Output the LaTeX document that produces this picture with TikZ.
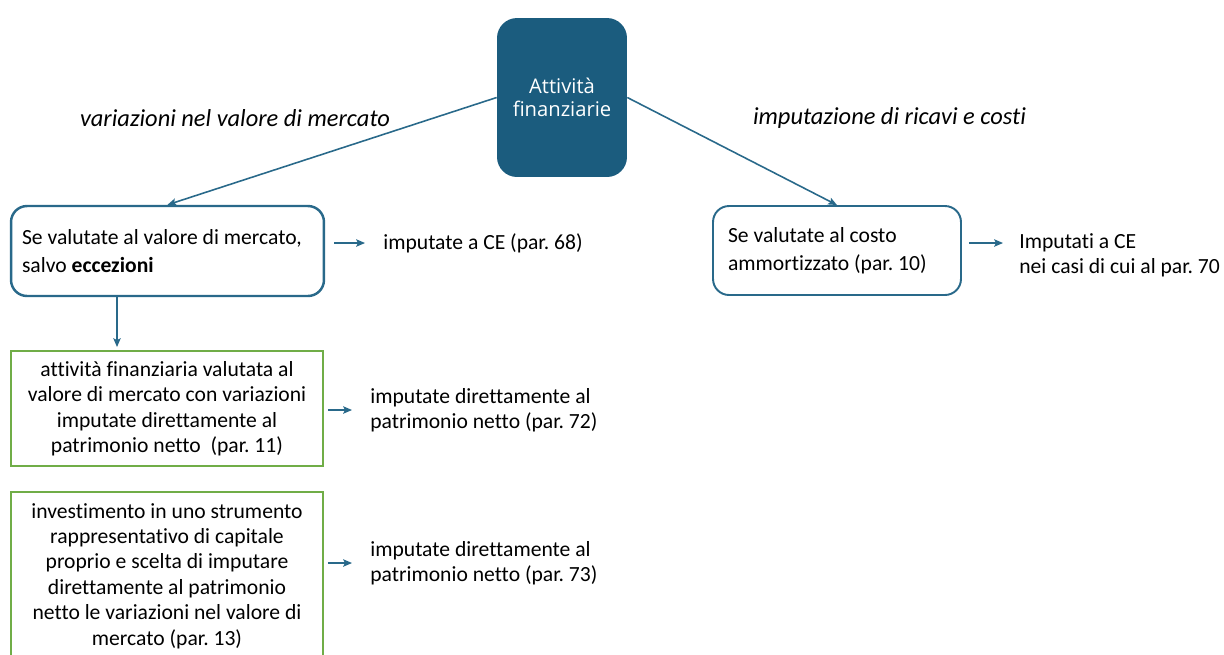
\documentclass[tikz,border=0pt]{standalone}
\usepackage{fontspec}
\setmainfont{Carlito}[Ligatures=NoCommon]
\newfontfamily\titrefont{Open Sans}
\usetikzlibrary{arrows.meta}
\frenchspacing

\definecolor{bleufonce}{HTML}{1B5C7E}
\definecolor{bleutrait}{HTML}{29698A}
\definecolor{vertcadre}{HTML}{70AD47}

\tikzset{
  fleche/.style={draw=bleutrait, line width=0.9pt, -{Stealth[length=5pt,width=4.2pt,inset=1pt]}},
  lien/.style={draw=bleutrait, line width=0.9pt, -{Stealth[length=5pt,width=4.2pt,inset=1pt]}},
  racine/.style={fill=bleufonce, draw=none, rounded corners=0.4cm, text=white,
    minimum width=2.6cm, minimum height=3.18cm, align=center,
    font=\titrefont\fontsize{11.5}{13}\selectfont},
  cadrebleu/.style={draw=bleutrait, line width=1.1pt, rounded corners=0.32cm,
    align=flush left, inner ysep=0pt, font=\fontsize{12.3}{15.9}\selectfont},
  cadrevert/.style={draw=vertcadre, line width=1.1pt, align=flush center,
    inner xsep=0.1cm, inner ysep=0pt, text width=6.04cm,
    font=\fontsize{12.3}{14.5}\selectfont},
  etiquette/.style={anchor=west, align=flush left, inner sep=0pt,
    font=\fontsize{12.3}{14.3}\selectfont},
  titre/.style={inner sep=0pt, font=\itshape\fontsize{13.9}{16}\selectfont},
}

\begin{document}
\begin{tikzpicture}[x=0.02cm, y=-0.02cm]
    \useasboundingbox (0,0) rectangle (1224,654);
    \clip (0,0) rectangle (1224,654);

    % noeud de depart
    \draw (562,97.5) node[racine] (attivita) {Attività\\finanziarie};

    \draw (235,118) node[titre] (titremercato) {variazioni nel valore di mercato};
    \draw (889.5,118) node[titre] (titrecosti) {imputazione di ricavi e costi};

    % cadres bleus
    \draw (167.5,251) node[cadrebleu, line width=1.4pt, inner xsep=0.22cm, text width=5.82cm,
        minimum height=1.8cm] (sevm) {Se valutate al valore di mercato,\\salvo \textbf{eccezioni}};
    \draw (837,250.5) node[cadrebleu, inner xsep=0.3cm, text width=4.36cm,
        minimum height=1.78cm] (costo) {Se valutate al costo\\ammortizzato (par. 10)};

    % cadres verts
    \draw (167,408.5) node[cadrevert, minimum height=2.3cm] (attfin)
        {attività finanziaria valutata al\\valore di mercato con variazioni\\imputate direttamente al\\patrimonio netto\ \ (par. 11)};
    \draw (167,576) node[cadrevert, minimum height=3.36cm] (invest)
        {investimento in uno strumento\\rappresentativo di capitale\\proprio e scelta di imputare\\direttamente al patrimonio\\netto le variazioni nel valore di\\mercato (par. 13)};

    % etiquettes a droite
    \draw (383,243) node[etiquette] (ce68) {imputate a CE (par. 68)};
    \draw (1019,255.5) node[etiquette] (ce70) {Imputati a CE\\nei casi di cui al par. 70};
    \draw (370,410) node[etiquette] (pn72) {imputate direttamente al\\patrimonio netto (par. 72)};
    \draw (370,563) node[etiquette] (pn73) {imputate direttamente al\\patrimonio netto (par. 73)};

    % liens depuis la racine
    \draw[lien] (attivita.west) -- (sevm.north);
    \draw[lien] (attivita.east) -- (costo.north);

    % fleches courtes
    \draw[fleche, shorten <=0.18cm, shorten >=0.36cm] (sevm.east |- ce68.west) -- (ce68.west);
    \draw[fleche] ([shift={(7,-7.5)}]costo.east) -- ([shift={(-16,-12.5)}]ce70.west);
    \draw[fleche, shorten <=0.08cm, shorten >=0.36cm] (attfin.east |- pn72.west) -- (pn72.west);
    \draw[fleche, shorten <=0.08cm, shorten >=0.36cm] (invest.east |- pn73.west) -- (pn73.west);
    \draw[fleche, shorten >=0.06cm] ([xshift=-1.01cm]sevm.south) -- ([xshift=-1.01cm]sevm.south |- attfin.north);
\end{tikzpicture}
\end{document}
